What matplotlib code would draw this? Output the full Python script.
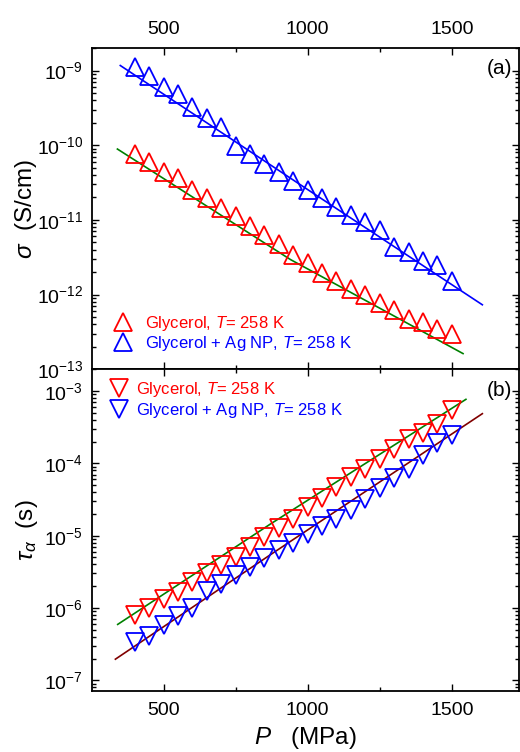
import numpy as np
import matplotlib
matplotlib.use("Agg")
import matplotlib.pyplot as plt
from matplotlib.ticker import LogLocator, MultipleLocator, NullFormatter
from matplotlib.lines import Line2D

plt.rcParams['font.family'] = ['Liberation Sans', 'DejaVu Sans']
plt.rcParams['mathtext.fontset'] = 'custom'
plt.rcParams['mathtext.rm'] = 'Liberation Sans'
plt.rcParams['mathtext.it'] = 'Liberation Sans:italic'
plt.rcParams['mathtext.default'] = 'regular'

# pressure (MPa)
P = [400, 450, 500, 550, 600, 650, 700, 750, 800, 850, 900, 950, 1000,
     1050, 1100, 1150, 1200, 1250, 1300, 1350, 1400, 1450, 1500]

# (a) conductivity sigma (S/cm)
sig_gly = [7.57e-11, 6.01e-11, 4.41e-11, 3.63e-11, 2.54e-11, 1.94e-11, 1.45e-11,
           1.14e-11, 8.36e-12, 6.30e-12, 4.77e-12, 3.44e-12, 2.64e-12, 1.97e-12,
           1.53e-12, 1.18e-12, 9.75e-13, 7.69e-13, 6.19e-13, 4.68e-13, 4.28e-13,
           3.44e-13, 3.01e-13]
sig_ag = [1.12e-9, 8.50e-10, 6.04e-10, 4.86e-10, 3.29e-10, 2.32e-10, 1.77e-10,
          9.84e-11, 7.69e-11, 5.60e-11, 4.38e-11, 3.31e-11, 2.51e-11, 1.97e-11,
          1.48e-11, 1.17e-11, 9.50e-12, 7.43e-12, 4.30e-12, 3.68e-12, 2.85e-12,
          2.49e-12, 1.54e-12]

# (b) relaxation time tau_alpha (s)
tau_gly = [8.11e-7, 1.01e-6, 1.35e-6, 1.64e-6, 2.32e-6, 3.01e-6, 3.94e-6,
           5.14e-6, 7.06e-6, 9.72e-6, 1.27e-5, 1.72e-5, 2.46e-5, 3.28e-5,
           4.70e-5, 6.47e-5, 8.45e-5, 1.14e-4, 1.59e-4, 2.16e-4, 2.62e-4,
           3.48e-4, 5.41e-4]
tau_ag = [3.42e-7, 4.14e-7, 5.74e-7, 7.82e-7, 9.93e-7, 1.73e-6, 2.14e-6,
          2.87e-6, 3.68e-6, 4.85e-6, 6.27e-6, 8.04e-6, 1.05e-5, 1.37e-5,
          1.69e-5, 2.24e-5, 3.26e-5, 4.51e-5, 6.24e-5, 8.34e-5, 1.32e-4,
          1.94e-4, 2.48e-4]

# fit lines
fitA_gly_P = [340, 940, 1539]
fitA_gly_y = [8.9e-11, 2.95e-12, 1.62e-13]
fitA_ag_P = [350, 1000, 1606]
fitA_ag_y = [1.17e-9, 2.55e-11, 7.3e-13]
fitB_gly_P = [341, 871, 1549]
fitB_gly_y = [5.93e-7, 1.45e-5, 7.67e-4]
fitB_ag_P = [333, 871, 1606]
fitB_ag_y = [1.96e-7, 5.46e-6, 4.86e-4]

fig = plt.figure(figsize=(5.2, 7.52), dpi=100)
axa = fig.add_axes([0.177, 0.509, 0.821, 0.427])
axb = fig.add_axes([0.177, 0.081, 0.821, 0.428])

ms = 13
mew = 1.3

axa.plot(fitA_ag_P, fitA_ag_y, '-', color='blue', lw=1.2)
axa.plot(fitA_gly_P, fitA_gly_y, '-', color='green', lw=1.2)
axa.plot(P, sig_gly, '^', ms=ms, mfc='none', mec='red', mew=mew)
axa.plot(P, sig_ag, '^', ms=ms, mfc='none', mec='blue', mew=mew)

axb.plot(fitB_gly_P, fitB_gly_y, '-', color='green', lw=1.2)
axb.plot(fitB_ag_P, fitB_ag_y, '-', color='#800000', lw=1.2)
axb.plot(P, tau_gly, 'v', ms=ms, mfc='none', mec='red', mew=mew)
axb.plot(P, tau_ag, 'v', ms=ms, mfc='none', mec='blue', mew=mew)

axa.set_yscale('log')
axb.set_yscale('log')
axa.set_ylim(1e-13, 2e-9)
axb.set_ylim(7.1e-8, 2e-3)

for ax in (axa, axb):
    ax.set_xlim(252, 1733)
    ax.xaxis.set_major_locator(MultipleLocator(500))
    ax.xaxis.set_minor_locator(MultipleLocator(250))
    ax.yaxis.set_major_locator(LogLocator(base=10, numticks=20))
    ax.yaxis.set_minor_locator(LogLocator(base=10, subs=np.arange(2, 10), numticks=20))
    ax.yaxis.set_minor_formatter(NullFormatter())
    ax.tick_params(which='both', direction='in', top=True, right=True,
                   labelsize=14, width=1.0)
    ax.tick_params(which='major', length=5)
    ax.tick_params(which='minor', length=3)
    ax.tick_params(axis='x', which='major', pad=7.5)
    ax.tick_params(axis='y', which='major', pad=6.5)
    for s in ax.spines.values():
        s.set_linewidth(1.3)

axa.tick_params(axis='x', which='both', labeltop=True, labelbottom=False)
axb.tick_params(axis='x', which='both', labeltop=False, labelbottom=True)

axa.set_ylabel(r'$\it{\sigma}$  (S/cm)', fontsize=17.5, labelpad=-2)
axb.set_ylabel(r'$\it{\tau}_{\alpha}$  (s)', fontsize=17.5, labelpad=3)
axb.set_xlabel(r'$\it{P}$   (MPa)', fontsize=17.5, labelpad=5)

axa.text(0.985, 0.938, '(a)', transform=axa.transAxes, ha='right', va='center', fontsize=15)
axb.text(0.985, 0.933, '(b)', transform=axb.transAxes, ha='right', va='center', fontsize=15)

lab_gly = r'Glycerol, $\it{T}$= 258 K'
lab_ag = r'Glycerol + Ag NP, $\it{T}$= 258 K'

ha = [Line2D([], [], ls='none', marker='^', ms=ms, mfc='none', mec='red', mew=mew),
      Line2D([], [], ls='none', marker='^', ms=ms, mfc='none', mec='blue', mew=mew)]
lga = axa.legend(ha, [lab_gly, lab_ag], loc='lower left', bbox_to_anchor=(0.043, 0.05),
                 frameon=False, fontsize=12, borderpad=0, handlelength=1.5,
                 handletextpad=0.6, labelspacing=0.1, borderaxespad=0)
for t, c in zip(lga.get_texts(), ['red', 'blue']):
    t.set_color(c)

hb = [Line2D([], [], ls='none', marker='v', ms=ms, mfc='none', mec='red', mew=mew),
      Line2D([], [], ls='none', marker='v', ms=ms, mfc='none', mec='blue', mew=mew)]
lgb = axb.legend(hb, [lab_gly, lab_ag], loc='upper left', bbox_to_anchor=(0.034, 0.966),
                 frameon=False, fontsize=12, borderpad=0, handlelength=1.5,
                 handletextpad=0.25, labelspacing=0.1, borderaxespad=0)
for t, c in zip(lgb.get_texts(), ['red', 'blue']):
    t.set_color(c)

fig.savefig('out.png', dpi=100)
